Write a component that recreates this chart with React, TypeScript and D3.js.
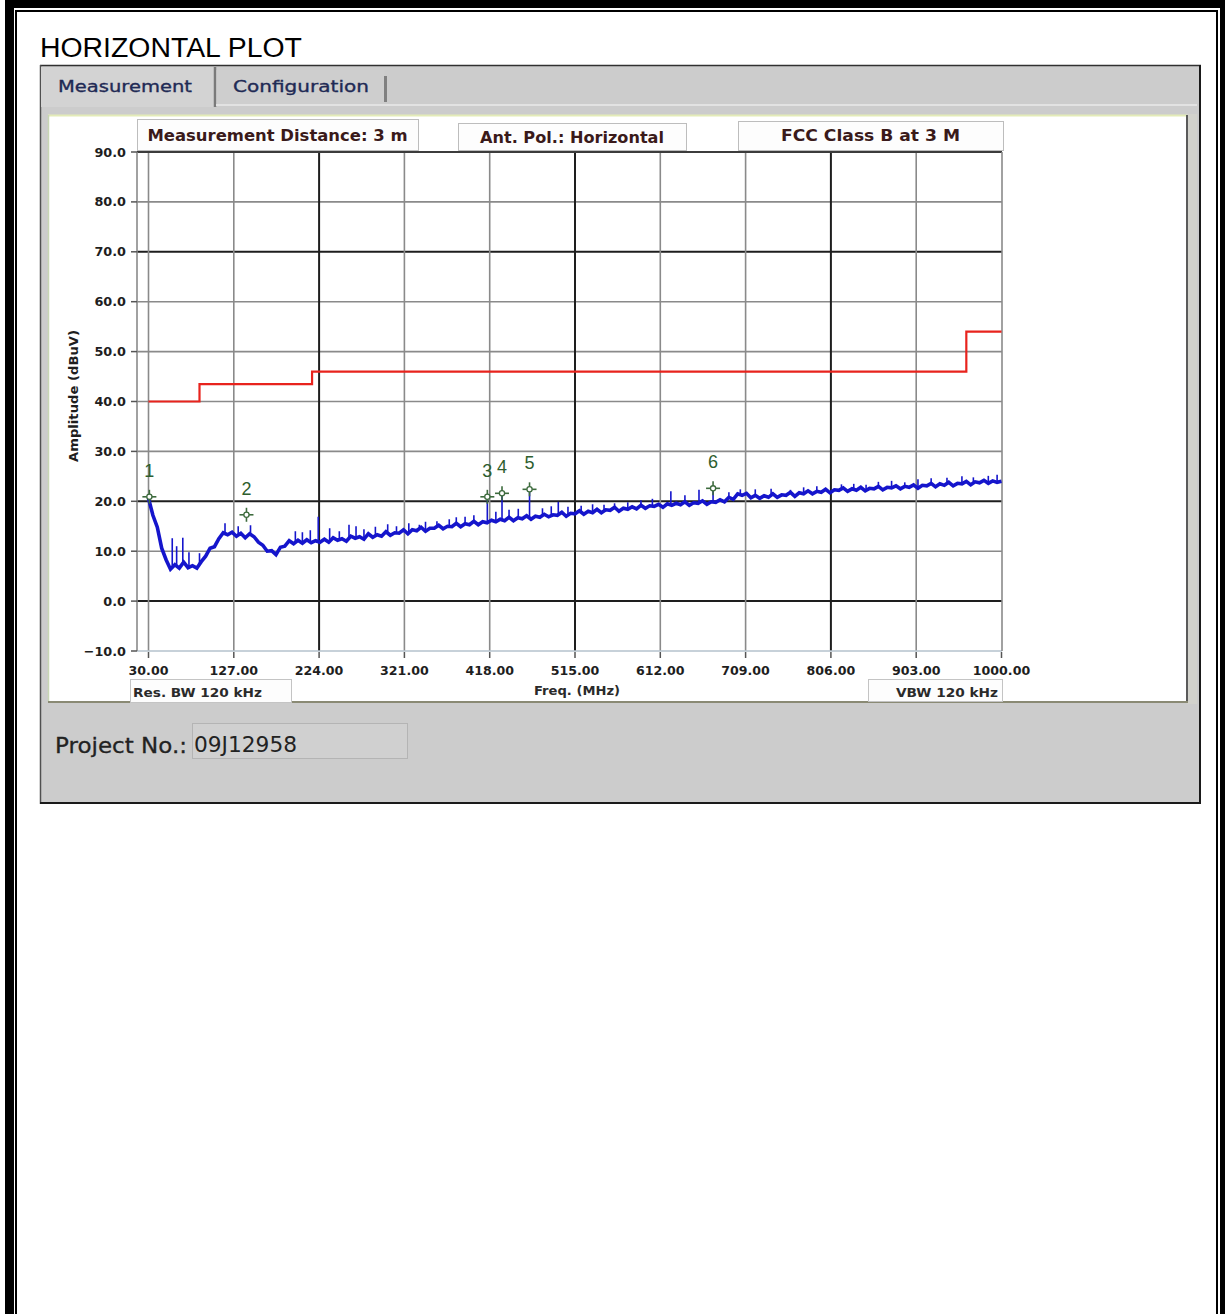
import React from 'react';
import * as d3 from 'd3';

// ---- text content ----
const TITLE = 'HORIZONTAL PLOT';
const TAB_LABELS = ['Measurement', 'Configuration'];
const INFO_LABELS = ['Measurement Distance: 3 m', 'Ant. Pol.: Horizontal', 'FCC Class B at 3 M'];
const RBW_LABEL = 'Res. BW 120 kHz';
const VBW_LABEL = 'VBW 120 kHz';
const X_TITLE = 'Freq. (MHz)';
const Y_TITLE = 'Amplitude (dBuV)';
const PROJECT_LABEL = 'Project No.:';
const PROJECT_NO = '09J12958';

// ---- axes ----
const FREQ_TICKS = [30, 127, 224, 321, 418, 515, 612, 709, 806, 903, 1000];
const FREQ_MAJOR = [224, 515, 806];
const AMP_TICKS = [-10, 0, 10, 20, 30, 40, 50, 60, 70, 80, 90];
const AMP_MAJOR = [70, 20, 0];

// ---- FCC Class B limit at 3 m (dBuV) ----
const LIMIT_FREQ = [30, 88, 216, 960, 1000];
const LIMIT_LEVEL = [40, 43.5, 46, 54, 54];

// ---- measured sweep, 30 MHz to 1000 MHz in 5 MHz steps ----
const SWEEP_START = 30;
const SWEEP_STEP = 5;
const SWEEP_LEVEL = [
  20.6, 17.2, 14.8, 10.6, 8.3, 6.4, 7.3, 6.6, 7.8, 6.7,
  7.1, 6.6, 7.9, 9.0, 10.6, 10.9, 12.5, 13.7, 13.3, 13.8,
  13.0, 13.6, 12.7, 13.5, 12.9, 11.8, 11.2, 10.0, 10.1, 9.3,
  10.8, 11.0, 12.1, 11.5, 12.2, 11.6, 12.3, 11.7, 12.1, 11.8,
  12.4, 11.8, 12.7, 12.2, 12.5, 12.0, 13.0, 12.6, 12.9, 12.4,
  13.5, 12.8, 13.3, 13.0, 13.9, 13.2, 13.7, 13.6, 14.3, 13.5,
  14.3, 14.1, 14.8, 14.0, 14.6, 14.6, 15.2, 14.5, 15.0, 14.9,
  15.6, 14.9, 15.5, 15.3, 16.0, 15.3, 15.9, 15.7, 16.2, 15.9,
  16.4, 16.1, 16.8, 16.1, 16.7, 16.5, 17.1, 16.4, 17.0, 16.8,
  17.4, 16.9, 17.3, 17.2, 17.8, 17.0, 17.6, 17.5, 18.1, 17.4,
  18.0, 17.7, 18.4, 17.7, 18.3, 18.2, 18.8, 18.0, 18.6, 18.4,
  18.9, 18.5, 19.2, 18.6, 19.1, 19.0, 19.4, 18.8, 19.5, 19.2,
  19.6, 19.3, 19.9, 19.2, 19.7, 19.6, 20.1, 19.4, 19.9, 19.8,
  20.3, 19.9, 20.8, 20.4, 21.5, 21.2, 21.6, 20.7, 21.2, 20.6,
  21.1, 20.8, 21.5, 20.8, 21.3, 21.2, 21.8, 21.0, 21.7, 21.5,
  22.1, 21.5, 22.0, 21.8, 22.4, 21.7, 22.3, 22.2, 22.7, 22.0,
  22.5, 22.2, 22.8, 22.1, 22.6, 22.5, 23.0, 22.3, 22.8, 22.7,
  23.1, 22.5, 23.0, 22.8, 23.3, 22.6, 23.2, 23.1, 23.6, 22.9,
  23.5, 23.2, 23.8, 23.1, 23.6, 23.5, 24.0, 23.3, 23.9, 23.7,
  24.2, 23.6, 24.1, 23.8, 24.0,
];

// narrow emissions rising above the noise floor
const SPIKE_FREQ = [
  57, 62, 69, 76, 88, 117, 132, 146, 197, 205, 214, 223, 236, 247, 258, 266, 275, 288, 302, 312,
  326, 338, 345, 358, 372, 380, 390, 400, 415.3, 425, 432, 440, 450.5, 463.3, 478, 488, 496, 507,
  522, 535, 548, 560, 575, 590, 603, 624, 640, 656, 672, 690, 703, 720, 738, 760, 775, 790, 818,
  832, 846, 860, 875, 890, 905, 920, 938, 955, 968, 985, 995,
];
const SPIKE_LEVEL = [
  12.6, 11.0, 12.7, 9.8, 9.6, 15.6, 15.0, 15.2, 14.0, 13.8, 14.2, 16.9, 14.6, 14.0, 15.3, 15.0, 14.4, 14.9, 15.4, 15.0,
  15.6, 15.3, 15.9, 16.0, 16.4, 16.8, 16.9, 17.2, 20.9, 17.9, 21.6, 18.3, 18.5, 22.4, 18.6, 19.0, 19.9, 18.9,
  19.1, 19.4, 19.3, 19.6, 19.8, 20.2, 20.5, 22.0, 21.2, 22.3, 22.6, 21.8, 22.4, 22.4, 22.5, 22.3, 22.8, 23.0, 23.4,
  23.5, 23.3, 23.9, 24.1, 23.8, 24.4, 24.6, 24.7, 25.0, 24.8, 25.1, 25.3,
];

// peak markers
const MARKER_ID = ['1', '2', '3', '4', '5', '6'];
const MARKER_FREQ = [31, 141.4, 415.3, 432, 463.3, 672];
const MARKER_LEVEL = [20.9, 17.3, 20.9, 21.6, 22.4, 22.6];

// ---- layout ----
const W = 1225;
const H = 1314;
const PLOT = { left: 137, right: 1002, top: 152, bottom: 651 };

const UI_FONT = 'DejaVu Sans, Verdana, sans-serif';
const TITLE_FONT = 'Liberation Sans, Arial, sans-serif';
const TRACE = '#1515cc';

export default function App() {
  const x = d3.scaleLinear().domain([30, 1000]).range([148.5, 1001.5]);
  const y = d3.scaleLinear().domain([-10, 90]).range([PLOT.bottom, PLOT.top]);

  const sweepFreq = SWEEP_LEVEL.map((_, i) => SWEEP_START + i * SWEEP_STEP);
  const sweepPts: [number, number][] = sweepFreq.map((f, i) => [f, SWEEP_LEVEL[i]]);
  const lineGen = d3.line<[number, number]>().x(d => x(d[0])).y(d => y(d[1]));
  const limitPts: [number, number][] = LIMIT_FREQ.map((f, i) => [f, LIMIT_LEVEL[i]]);
  const limitGen = d3.line<[number, number]>().x(d => x(d[0])).y(d => y(d[1])).curve(d3.curveStepAfter);

  // level of the sweep at an arbitrary frequency, used as the foot of each spike
  const floorAt = (f: number) => {
    const i = Math.min(SWEEP_LEVEL.length - 2, Math.max(0, Math.floor((f - SWEEP_START) / SWEEP_STEP)));
    const t = (f - sweepFreq[i]) / SWEEP_STEP;
    return SWEEP_LEVEL[i] * (1 - t) + SWEEP_LEVEL[i + 1] * t;
  };

  const fmtY = d3.format('.1f');
  const fmtX = d3.format('.2f');

  const infoBoxes = [
    { x0: 137, x1: 418, y0: 119, y1: 150, len: 260, base: 141 },
    { x0: 458, x1: 686, y0: 123, y1: 150, len: 184, base: 143 },
    { x0: 738, x1: 1003, y0: 121, y1: 150, len: 179, base: 141 },
  ];

  return (
    <svg width={W} height={H} viewBox={`0 0 ${W} ${H}`}
      style={{ position: 'absolute', left: 0, top: 0, background: '#fff' }}>
      {/* page frame */}
      <rect x={5} y={0} width={9} height={H} fill="#000" />
      <rect x={5} y={0} width={W - 5} height={8} fill="#000" />
      <rect x={15} y={10} width={2} height={H - 10} fill="#000" />
      <rect x={15} y={10} width={1203} height={2} fill="#000" />
      <rect x={1220} y={0} width={5} height={H} fill="#000" />
      <rect x={1216} y={10} width={2} height={H - 10} fill="#000" />

      <text x={40} y={57} fontFamily={TITLE_FONT} fontSize={28.4} fill="#000">{TITLE}</text>

      {/* application window */}
      <rect x={40} y={65} width={1161} height={739} fill="#cccccc" />
      <line x1={40} y1={65.5} x2={1201} y2={65.5} stroke="#303030" strokeWidth={1.5} />
      <line x1={40.5} y1={65} x2={40.5} y2={804} stroke="#505050" strokeWidth={1.5} />
      <line x1={1200} y1={65} x2={1200} y2={804} stroke="#1a1a1a" strokeWidth={2} />
      <line x1={40} y1={803} x2={1201} y2={803} stroke="#1a1a1a" strokeWidth={2} />

      {/* tabs */}
      <rect x={41} y={67} width={173} height={40} fill="#d3d3d3" />
      <line x1={215} y1={67} x2={215} y2={107} stroke="#7a7a7a" strokeWidth={2.5} />
      <rect x={216.5} y={70} width={168} height={34} fill="#cecece" />
      <line x1={385.5} y1={76} x2={385.5} y2={102} stroke="#808080" strokeWidth={3} />
      <line x1={216} y1={105} x2={1197} y2={105} stroke="#e2e2e2" strokeWidth={2} />
      <text x={58} y={92} fontFamily={UI_FONT} fontSize={16.5} fill="#1f2a55" stroke="#1f2a55"
        strokeWidth={0.35} textLength={134} lengthAdjust="spacingAndGlyphs">{TAB_LABELS[0]}</text>
      <text x={233} y={92} fontFamily={UI_FONT} fontSize={16.5} fill="#1f2a55" stroke="#1f2a55"
        strokeWidth={0.35} textLength={136} lengthAdjust="spacingAndGlyphs">{TAB_LABELS[1]}</text>

      {/* chart panel */}
      <rect x={1187} y={114} width={10} height={590} fill="#d2d2cc" />
      <rect x={48} y={115} width={1139} height={587} fill="#ffffff" />
      <line x1={48} y1={115.5} x2={1187} y2={115.5} stroke="#e3ebb8" strokeWidth={2} />
      <line x1={48.5} y1={115} x2={48.5} y2={702} stroke="#c8d6b4" strokeWidth={1.5} />
      <line x1={1187} y1={115} x2={1187} y2={703} stroke="#5a5a5a" strokeWidth={2} />
      <line x1={48} y1={702} x2={1188} y2={702} stroke="#8a8a74" strokeWidth={2} />

      {/* grid */}
      {AMP_TICKS.filter(v => v > -10 && v < 90).map(v => (
        <line key={`gy${v}`} x1={PLOT.left} x2={PLOT.right} y1={y(v)} y2={y(v)}
          stroke={AMP_MAJOR.includes(v) ? '#1e1e1e' : '#8a8a8a'}
          strokeWidth={AMP_MAJOR.includes(v) ? 2 : 1.6} />
      ))}
      {FREQ_TICKS.filter(f => f < 1000).map(f => (
        <line key={`gx${f}`} x1={x(f)} x2={x(f)} y1={PLOT.top} y2={PLOT.bottom}
          stroke={FREQ_MAJOR.includes(f) ? '#1e1e1e' : '#8a8a8a'}
          strokeWidth={FREQ_MAJOR.includes(f) ? 2 : 1.6} />
      ))}
      <line x1={PLOT.left} x2={PLOT.right} y1={y(90)} y2={y(90)} stroke="#3c3c3c" strokeWidth={2} />
      <line x1={PLOT.left} x2={PLOT.right} y1={y(-10)} y2={y(-10)} stroke="#b4c2cc" strokeWidth={1.5} />
      <line x1={PLOT.left} x2={PLOT.left} y1={PLOT.top} y2={PLOT.bottom} stroke="#8a8a8a" strokeWidth={1.6} />
      <line x1={PLOT.right} x2={PLOT.right} y1={PLOT.top} y2={PLOT.bottom} stroke="#8a8a8a" strokeWidth={1.6} />

      {/* y axis ticks and labels */}
      {AMP_TICKS.map(v => (
        <g key={`ty${v}`}>
          <line x1={PLOT.left - 6} x2={PLOT.left} y1={y(v)} y2={y(v)} stroke="#555" strokeWidth={1.5} />
          <text x={126} y={y(v) + 4.5} textAnchor="end" fontFamily={UI_FONT} fontWeight="bold"
            fontSize={12.8} fill="#1e1e1e">{fmtY(v)}</text>
        </g>
      ))}
      {/* x axis ticks and labels */}
      {FREQ_TICKS.map(f => (
        <g key={`tx${f}`}>
          <line x1={x(f)} x2={x(f)} y1={PLOT.bottom + 1} y2={PLOT.bottom + 7} stroke="#555" strokeWidth={1.5} />
          <text x={x(f)} y={675} textAnchor="middle" fontFamily={UI_FONT} fontWeight="bold"
            fontSize={12.6} fill="#1e1e1e">{fmtX(f)}</text>
        </g>
      ))}

      <text transform="translate(78,396) rotate(-90)" textAnchor="middle" fontFamily={UI_FONT}
        fontWeight="bold" fontSize={11.5} fill="#1e1e1e" textLength={132}
        lengthAdjust="spacingAndGlyphs">{Y_TITLE}</text>
      <text x={577} y={695} textAnchor="middle" fontFamily={UI_FONT} fontWeight="bold"
        fontSize={12} fill="#2a2a2a" textLength={86} lengthAdjust="spacingAndGlyphs">{X_TITLE}</text>

      {/* limit line */}
      <path d={limitGen(limitPts) || ''} fill="none" stroke="#e8231d" strokeWidth={2.2} />

      {/* sweep trace */}
      {SPIKE_FREQ.map((f, i) => (
        <line key={`sp${i}`} x1={x(f)} x2={x(f)} y1={y(floorAt(f))} y2={y(SPIKE_LEVEL[i])}
          stroke={TRACE} strokeWidth={1.6} />
      ))}
      <path d={lineGen(sweepPts) || ''} fill="none" stroke={TRACE} strokeWidth={3.6}
        strokeLinejoin="miter" />

      {/* peak markers */}
      {MARKER_ID.map((id, i) => {
        const mx = x(MARKER_FREQ[i]);
        const my = y(MARKER_LEVEL[i]);
        return (
          <g key={`mk${id}`}>
            <line x1={mx - 7} x2={mx + 7} y1={my} y2={my} stroke="#3d6b3d" strokeWidth={1.6} />
            <line x1={mx} x2={mx} y1={my - 7} y2={my + 7} stroke="#3d6b3d" strokeWidth={1.6} />
            <circle cx={mx} cy={my} r={2.6} fill="#fff" stroke="#3d6b3d" strokeWidth={1.3} />
            <text x={mx} y={my - 20} textAnchor="middle" fontFamily={TITLE_FONT} fontSize={18}
              fill="#2e5e2e">{id}</text>
          </g>
        );
      })}

      {/* header boxes */}
      {infoBoxes.map((b, i) => (
        <g key={`ib${i}`}>
          <rect x={b.x0 + 0.5} y={b.y0 + 0.5} width={b.x1 - b.x0} height={b.y1 - b.y0}
            fill="#fdfdfd" stroke="#bdbdbd" strokeWidth={1} />
          <text x={(b.x0 + b.x1) / 2} y={b.base} textAnchor="middle" fontFamily={UI_FONT}
            fontWeight="bold" fontSize={15} fill="#3a1a1a" textLength={b.len}
            lengthAdjust="spacingAndGlyphs">{INFO_LABELS[i]}</text>
        </g>
      ))}

      {/* bandwidth boxes */}
      <rect x={130.5} y={679.5} width={161} height={23} fill="#fdfdfd" stroke="#c4c4c4" strokeWidth={1} />
      <text x={133} y={697} fontFamily={UI_FONT} fontWeight="bold" fontSize={13} fill="#2a2a2a"
        textLength={129} lengthAdjust="spacingAndGlyphs">{RBW_LABEL}</text>
      <rect x={868.5} y={679.5} width={134} height={22} fill="#fdfdfd" stroke="#c4c4c4" strokeWidth={1} />
      <text x={998} y={697} textAnchor="end" fontFamily={UI_FONT} fontWeight="bold" fontSize={13}
        fill="#2a2a2a" textLength={102} lengthAdjust="spacingAndGlyphs">{VBW_LABEL}</text>

      {/* project number */}
      <text x={55} y={753} fontFamily={UI_FONT} fontSize={22} fill="#222" stroke="#222" strokeWidth={0.3}
        textLength={132} lengthAdjust="spacingAndGlyphs">{PROJECT_LABEL}</text>
      <rect x={192.5} y={723.5} width={215} height={35} fill="#d0d0d0" stroke="#b4b4b4" strokeWidth={1} />
      <text x={194} y={752} fontFamily={UI_FONT} fontSize={22} fill="#222"
        textLength={103} lengthAdjust="spacingAndGlyphs">{PROJECT_NO}</text>
    </svg>
  );
}
